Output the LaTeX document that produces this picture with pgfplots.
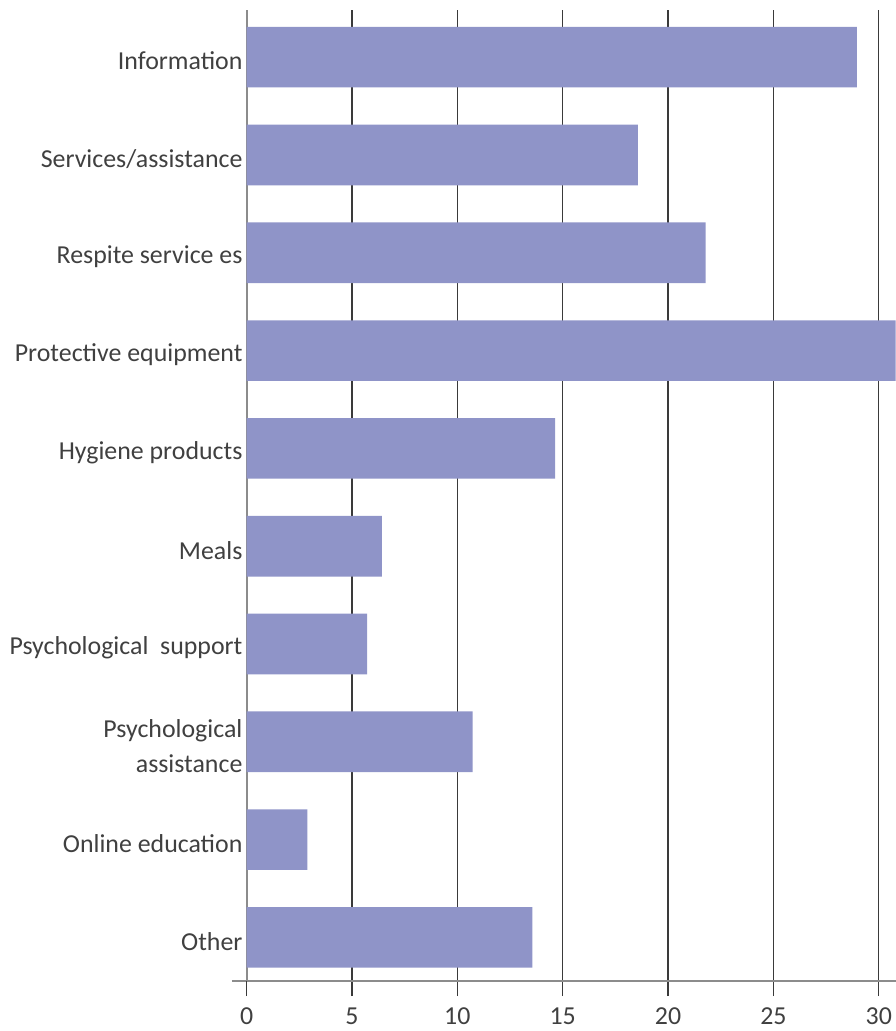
\documentclass[border=0pt]{standalone}
\usepackage{pgfplots}
\pgfplotsset{compat=1.18}
\usepackage{fontspec}
\setmainfont{Carlito}
\definecolor{barc}{HTML}{8F94C8}
\definecolor{txt}{HTML}{404040}
\definecolor{gridc}{HTML}{3A3A3A}
\definecolor{axc}{HTML}{8C8C8C}
\begin{document}
\begin{tikzpicture}
\useasboundingbox (-116.5pt,-25pt) rectangle (333.5pt,493pt);
\begin{axis}[
  scale only axis,
  width=333.5pt, height=488pt,
  xmin=-0.7, xmax=30.8,
  ymin=-0.448, ymax=9.483,
  xbar, bar width=0.62,
  axis x line*=bottom,
  axis y line*=left,
  x axis line style={color=axc, line width=0.8pt},
  y axis line style={draw=none},
  xtick={5,10,15,20,25,30},
  extra x ticks={0},
  extra x tick style={major grid style={color=axc, line width=0.9pt}, major tick style={color=axc, line width=0.9pt}},
  xmajorgrids,
  major grid style={color=gridc, line width=0.6pt},
  tick align=outside,
  major tick length=7.5pt,
  x tick style={color=gridc, line width=0.6pt},
  y tick style={draw=none},
  ytick={0,1,2,3,4,5,6,7,8,9},
  yticklabels={Other, Online education, {Psychological\\assistance}, Psychological\ \ support, Meals, Hygiene products, Protective equipment, Respite service es, Services/assistance, Information},
  yticklabel style={inner sep=0pt, xshift=13pt, yshift=-2pt, align=right, text=txt, font=\fontsize{13}{17.5}\selectfont},
  xticklabel style={text=txt, inner sep=0pt, text depth=0pt, yshift=-5.5pt, font=\fontsize{13}{15}\selectfont},
  /pgf/number format/assume math mode=true,
]
\addplot[fill=barc, draw=none] coordinates {
  (13.56,0)
  (2.88,1)
  (10.72,2)
  (5.72,3)
  (6.42,4)
  (14.64,5)
  (31.0,6)
  (21.78,7)
  (18.57,8)
  (28.96,9)
};
\end{axis}
\end{tikzpicture}
\end{document}
